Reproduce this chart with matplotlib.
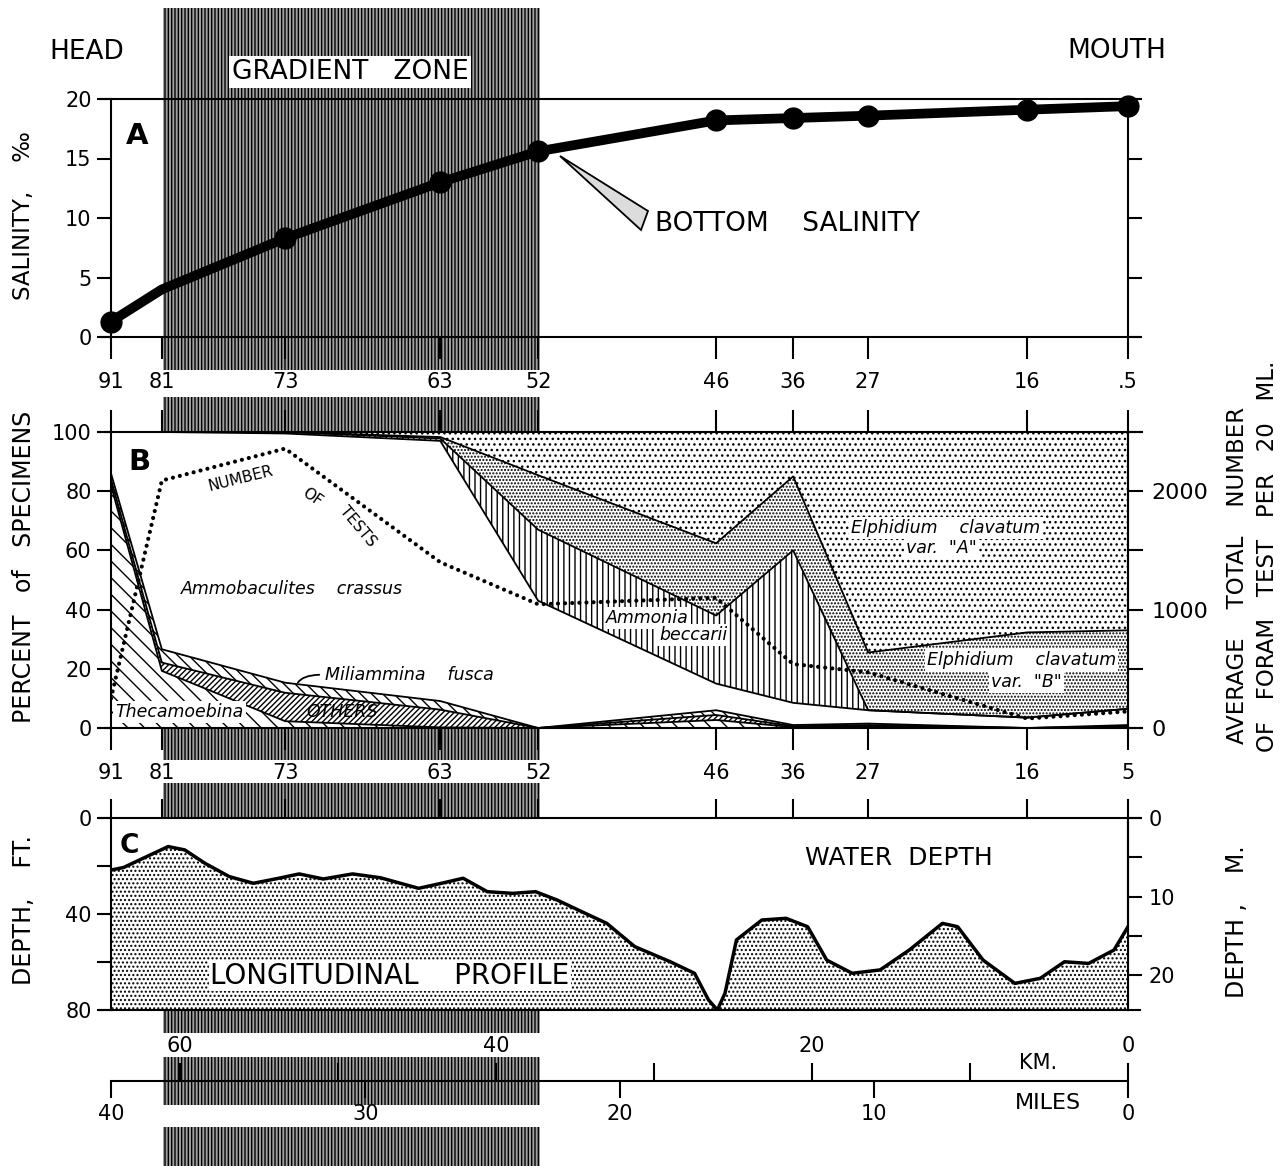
import numpy as np
import matplotlib.pyplot as plt
from matplotlib.patches import Rectangle, Polygon

plt.rcParams["font.family"] = "DejaVu Sans"
plt.rcParams["hatch.linewidth"] = 1.0

W, H = 1284, 1166

# stations, positioned by distance from the mouth (miles)
stations = ["91", "81", "73", "63", "52", "46", "36", "27", "16", "5"]
station_miles = [40.0, 38.0, 33.15, 27.05, 23.2, 16.2, 13.17, 10.22, 3.97, 0.0]

# A - bottom salinity (per mil)
salinity = [1.3, 4.0, 8.3, 13.0, 15.6, 18.2, 18.4, 18.6, 19.1, 19.4]

# B - percent of specimens, stacked from the bottom up
thecamoebina = [82, 19.3, 2.3, 0.2, 0, 2.7, 0.3, 0.5, 0, 0.3]
others = [2, 2.8, 9.6, 6.0, 0, 1.7, 0.3, 0.5, 0, 0.3]
miliammina = [2, 4.5, 3.4, 2.9, 0, 1.6, 0.4, 0.5, 0, 0.4]
ammobaculites = [14, 73.4, 84.2, 87.9, 43, 9.0, 7.5, 4.5, 3.5, 5.5]
ammonia = [0, 0, 0.5, 0.8, 24, 23, 51.5, 0, 0, 0]
elphidium_b = [0, 0, 0, 0.5, 18.4, 24.4, 25, 19.5, 28.8, 26.5]
elphidium_a = [0, 0, 0, 1.7, 14.6, 37.6, 15, 74.5, 67.7, 67.0]
number_of_tests = [250, 2090, 2360, 1400, 1045, 1100, 540, 470, 80, 140]

# C - longitudinal profile of water depth
profile_miles = [40.0, 39.5, 38.6, 37.75, 37.1, 36.3, 35.35, 34.4, 33.4, 32.6,
                 31.65, 30.5, 29.4, 27.9, 27.0, 26.15, 25.2, 24.2, 23.3, 22.45,
                 21.35, 20.5, 19.4, 18.0, 17.05, 16.5, 16.15, 15.85, 15.4, 14.4,
                 13.45, 12.6, 11.85, 10.85, 9.75, 8.6, 7.3, 6.7, 5.7, 4.45,
                 3.45, 2.5, 1.55, 0.55, 0.0]
profile_depth_ft = [21.7, 20.6, 16.1, 11.9, 13.3, 18.9, 24.4, 27.2, 25.1, 23.3,
                    25.4, 23.3, 24.9, 29.3, 27.2, 25.1, 30.7, 31.4, 30.7, 34.2,
                    39.7, 43.9, 53.6, 59.9, 64.7, 75.8, 80, 73, 50.8, 42.5,
                    41.8, 45.3, 59.2, 64.7, 63.3, 55, 43.9, 45.3, 59.2, 68.9,
                    66.8, 59.9, 60.6, 55, 45.3]


def box(x0, y0, x1, y1):
    return [x0 / W, 1 - y1 / H, (x1 - x0) / W, (y1 - y0) / H]


def ftext(x, y, s, **kw):
    fig.text(x / W, 1 - y / H, s, **kw)


fig = plt.figure(figsize=(W / 100, H / 100), dpi=100)

# gradient zone stripe (behind the panels)
for y0, y1 in [(8, 370), (397, 760), (783, 1033), (1057, 1105), (1127, 1166)]:
    fig.add_artist(Rectangle((163 / W, 1 - y1 / H), (540 - 163) / W, (y1 - y0) / H,
                             transform=fig.transFigure, facecolor="#a0a0a0",
                             edgecolor="black", hatch="|||||", lw=0, zorder=-5))

tick_kw = dict(direction="out", width=1.5, labelsize=15, color="black")

# ---------------- A ----------------
axA = fig.add_axes(box(111, 99, 1128, 337))
axA.set_facecolor("none")
axA.set_xlim(40, 0)
axA.set_ylim(0, 20)
for s in ["top", "bottom"]:
    axA.spines[s].set_visible(False)
for s in ["left", "right"]:
    axA.spines[s].set_linewidth(1.5)
for yv in [0, 20]:
    axA.plot([-0.011, 1.011], [yv, yv], transform=axA.get_yaxis_transform(),
             color="black", lw=1.5, clip_on=False)
axA.plot(station_miles, salinity, "-o", color="black", lw=7, ms=15,
         markevery=[0, 2, 3, 4, 5, 6, 7, 8, 9], solid_capstyle="round",
         clip_on=False, zorder=5)
axA.set_yticks([0, 5, 10, 15, 20])
axA.tick_params(axis="y", length=10, right=True, pad=4, **tick_kw)
axA.set_xticks(station_miles)
axA.set_xticklabels(stations[:-1] + [".5"])
axA.tick_params(axis="x", length=16, pad=9, **tick_kw)

ftext(87, 52, "HEAD", fontsize=19, ha="center", va="center")
ftext(1117, 51, "MOUTH", fontsize=19, ha="center", va="center")
ftext(350, 72, "GRADIENT   ZONE", fontsize=19, ha="center", va="center",
      bbox=dict(facecolor="white", edgecolor="none", pad=2))
ftext(137, 136, "A", fontsize=21, fontweight="bold", ha="center", va="center")
ftext(24, 216, "SALINITY,    \u2030", fontsize=16.5, rotation=90, ha="center", va="center")
ftext(655, 224, "BOTTOM    SALINITY", fontsize=19, ha="left", va="center")
fig.add_artist(Polygon([(560 / W, 1 - 156 / H), (648 / W, 1 - 211 / H), (641 / W, 1 - 230 / H)],
                       closed=True, transform=fig.transFigure, facecolor="#dcdcdc",
                       edgecolor="black", lw=1.3, zorder=6))

# ---------------- B ----------------
axB = fig.add_axes(box(111, 432, 1128, 728))
axB.set_xlim(40, 0)
axB.set_ylim(0, 100)
for s in ["top", "bottom"]:
    axB.spines[s].set_visible(False)
for s in ["left", "right"]:
    axB.spines[s].set_linewidth(1.5)
for yv in [0, 100]:
    axB.plot([-0.012, 1.012], [yv, yv], transform=axB.get_yaxis_transform(),
             color="black", lw=1.5, clip_on=False, zorder=6)

layers = np.array([thecamoebina, others, miliammina, ammobaculites,
                   ammonia, elphidium_b, elphidium_a], dtype=float)
hatches = ["\\\\", "//////", "\\\\\\", None, "|||", ".....", "..."]
tops = np.cumsum(layers, axis=0)
bottoms = np.vstack([np.zeros(len(station_miles)), tops[:-1]])
for bot, top, h in zip(bottoms, tops, hatches):
    axB.fill_between(station_miles, bot, top, facecolor="white", edgecolor="black",
                     hatch=h, linewidth=0, zorder=1)
for top in tops[:-1]:
    axB.plot(station_miles, top, color="black", lw=1.3, zorder=2)

axB.set_yticks(range(0, 101, 20))
axB.tick_params(axis="y", length=10, pad=4, **tick_kw)
axB.set_xticks(station_miles)
axB.set_xticklabels(stations)
axB.tick_params(axis="x", length=16, pad=9, top=True, **tick_kw)

axB2 = axB.twinx()
axB2.set_ylim(0, 2500)
axB2.set_yticks(range(0, 2501, 500))
axB2.set_yticklabels(["0", "", "1000", "", "2000", ""])
axB2.tick_params(axis="y", length=11, pad=6, direction="out", width=1.5, labelsize=16)
axB2.spines["right"].set_linewidth(1.5)
for s in ["top", "bottom", "left"]:
    axB2.spines[s].set_visible(False)
axB2.plot(station_miles, number_of_tests, color="black", lw=3.0,
          linestyle=(0, (0.01, 1.7)), dash_capstyle="round", zorder=3)

it = dict(fontstyle="italic", fontsize=12.5, ha="center", va="center", zorder=8)
wb = dict(facecolor="white", edgecolor="none", pad=1.5)
axB.text(38.9, 89.9, "B", fontsize=21, fontweight="bold", ha="center", va="center")
axB.text(34.9, 84.1, "NUMBER", fontsize=11, rotation=14, ha="center", va="center")
axB.text(32.1, 78, "OF", fontsize=11, rotation=-35, ha="center", va="center")
axB.text(30.3, 68, "TESTS", fontsize=11, rotation=-50, ha="center", va="center")
axB.text(32.9, 47, "Ammobaculites    crassus", **it)
axB.text(31.6, 18, "Miliammina    fusca", fontstyle="italic", fontsize=12.5,
         ha="left", va="center", zorder=8)
axB.annotate("", xy=(32.7, 14.5), xytext=(31.7, 18),
             arrowprops=dict(arrowstyle="-", lw=1.3, connectionstyle="angle3,angleA=0,angleB=70"))
axB.text(37.3, 5.4, "Thecamoebina", bbox=wb, **it)
axB.text(30.9, 5.4, "OTHERS", **it)
axB.text(18.9, 37.2, "Ammonia", bbox=wb, **it)
axB.text(17.1, 31.4, "beccarii", bbox=wb, **it)
axB.text(7.16, 67.6, "Elphidium    clavatum", bbox=wb, **it)
axB.text(7.35, 60.8, "var.  \"A\"", bbox=wb, **it)
axB.text(4.2, 23, "Elphidium    clavatum", bbox=wb, **it)
axB.text(4.0, 15.5, "var.  \"B\"", bbox=wb, **it)

ftext(24, 567, "PERCENT   of   SPECIMENS", fontsize=17, rotation=90, ha="center", va="center")
ftext(1237, 575, "AVERAGE    TOTAL    NUMBER", fontsize=16.5, rotation=90,
      ha="center", va="center")
ftext(1268, 556, "OF   FORAM   TEST   PER   20   ML.", fontsize=16.5, rotation=90,
      ha="center", va="center")

# ---------------- C ----------------
axC = fig.add_axes(box(111, 818, 1128, 1010))
axC.set_xlim(40, 0)
axC.set_ylim(80, 0)
for s in ["top", "bottom"]:
    axC.spines[s].set_visible(False)
for s in ["left", "right"]:
    axC.spines[s].set_linewidth(1.5)
for yv in [0, 80]:
    axC.plot([-0.012, 1.012], [yv, yv], transform=axC.get_yaxis_transform(),
             color="black", lw=1.5, clip_on=False, zorder=6)
axC.fill_between(profile_miles, profile_depth_ft, 80, facecolor="white",
                 edgecolor="black", hatch="....", linewidth=0, zorder=1)
axC.plot(profile_miles, profile_depth_ft, color="black", lw=2.5, zorder=2)
axC.set_yticks([0, 20, 40, 60, 80])
axC.set_yticklabels(["0", "", "40", "", "80"])
axC.tick_params(axis="y", length=10, pad=4, **tick_kw)
axC.set_xticks(station_miles)
axC.tick_params(axis="x", length=14, top=True, bottom=False, labelbottom=False,
                direction="out", width=1.5)

secC = axC.secondary_yaxis("right", functions=(lambda f: f / 3.281, lambda m: m * 3.281))
secC.set_yticks([0, 5, 10, 15, 20, 25])
secC.set_yticklabels(["0", "", "10", "", "20", ""])
secC.tick_params(axis="y", length=10, pad=5, **tick_kw)
secC.spines["right"].set_linewidth(1.5)

ftext(129, 846, "C", fontsize=19, fontweight="bold", ha="center", va="center")
ftext(899, 858, "WATER  DEPTH", fontsize=18, ha="center", va="center")
ftext(390, 976, "LONGITUDINAL    PROFILE", fontsize=20, ha="center", va="center",
      bbox=dict(facecolor="white", edgecolor="none", pad=1))
ftext(24, 910, "DEPTH,    FT.", fontsize=17, rotation=90, ha="center", va="center")
ftext(1237, 922, "DEPTH ,    M.", fontsize=17, rotation=90, ha="center", va="center")

# ---------------- distance scale ----------------
axS = fig.add_axes(box(111, 1080, 1128, 1080.5))
axS.patch.set_visible(False)
axS.set_xlim(40, 0)
axS.set_yticks([])
for s in ["top", "left", "right"]:
    axS.spines[s].set_visible(False)
axS.spines["bottom"].set_linewidth(1.5)
axS.set_xticks([40, 30, 20, 10, 0])
axS.tick_params(axis="x", length=12, pad=5, **tick_kw)
secS = axS.secondary_xaxis("top", functions=(lambda mi: mi * 1.609, lambda km: km / 1.609))
secS.set_xticks(range(0, 61, 10))
secS.set_xticklabels(["0", "", "20", "", "40", "", "60"])
secS.tick_params(axis="x", length=12, pad=5, **tick_kw)
secS.spines["top"].set_visible(False)
ftext(1038, 1063, "KM.", fontsize=15, ha="center", va="center")
ftext(1048, 1103, "MILES", fontsize=16, ha="center", va="center")

fig.savefig("out.png", dpi=100)
